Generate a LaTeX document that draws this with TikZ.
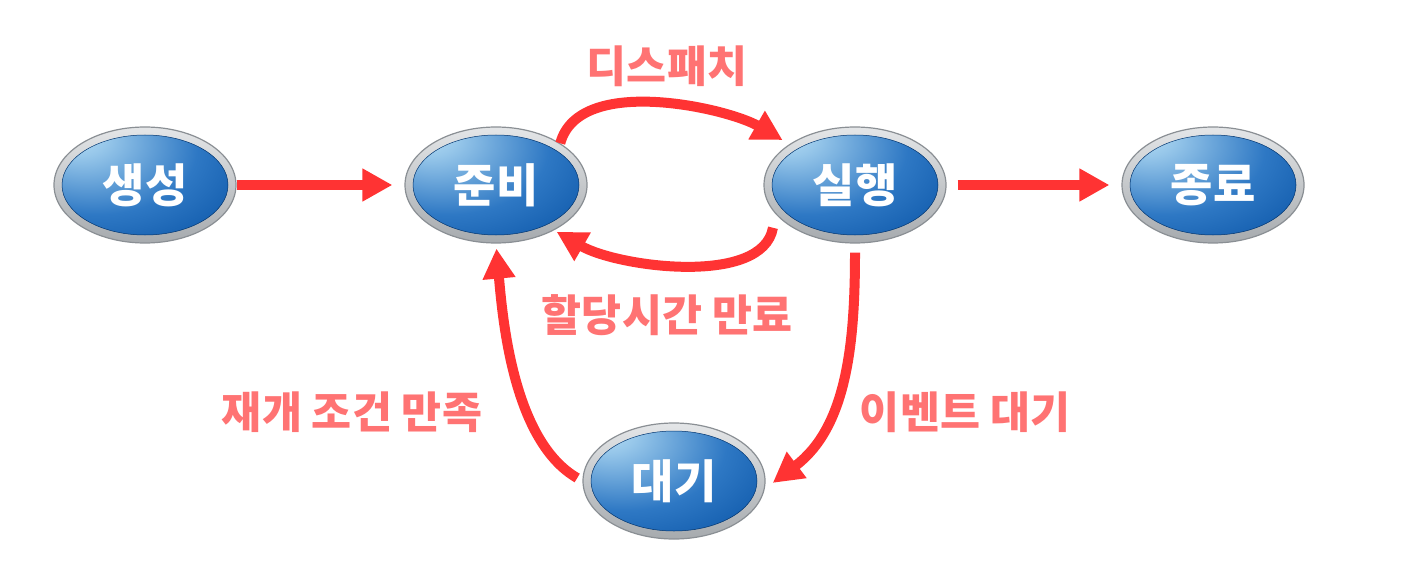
\documentclass[tikz,border=0pt]{standalone}
\usepackage{fontspec}
\newfontfamily\kr{Noto Sans CJK KR}
\usetikzlibrary{arrows.meta,shapes.geometric}
\definecolor{flowred}{HTML}{FF3333}
\definecolor{notered}{HTML}{FF7373}
\definecolor{btnlight}{HTML}{B8E0F6}
\definecolor{btnmid}{HTML}{2E78C4}
\definecolor{btndark}{HTML}{004A9E}
\definecolor{rimtop}{HTML}{E4E6E8}
\definecolor{rimbot}{HTML}{A6AAAE}
\definecolor{rimline}{HTML}{8A8F94}
\pgfdeclareradialshading{bluebtn}{\pgfpoint{-20bp}{22bp}}{%
  color(0bp)=(btnlight); color(8bp)=(btnlight!75!btnmid);
  color(28bp)=(btnmid); color(52bp)=(btndark); color(90bp)=(btndark)}
\tikzset{
  procnode/.style={ellipse, minimum width=182pt, minimum height=116pt, inner sep=0pt,
    draw=rimline, line width=1.2pt, top color=rimtop, bottom color=rimbot,
    path picture={
      \shade[shading=bluebtn] (path picture bounding box.center) ellipse (83pt and 50pt);
      \draw[btndark!70!black, line width=0.5pt] (path picture bounding box.center) ellipse (83pt and 50pt);},
    font=\kr\bfseries\fontsize{46}{46}\selectfont, text=white},
  flow/.style={-{Triangle[length=30pt, width=31pt]}, line width=10pt, color=flowred},
  note/.style={font=\kr\bfseries\fontsize{43.5}{43.5}\selectfont, text=notered},
}
\begin{document}
\begin{tikzpicture}[x=1pt,y=1pt]
  \useasboundingbox (0,0) rectangle (1404,-572);
  % states
  \node[procnode] (create) at (145,-185) {생성};
  \node[procnode] (ready) at (496,-185) {준비};
  \node[procnode] (run) at (855,-185) {실행};
  \node[procnode] (done) at (1213,-185) {종료};
  \node[procnode] (wait) at (674,-481) {대기};
  % transitions
  \draw[flow, shorten >=12pt] (create) -- (ready);
  \draw[flow, shorten <=11pt, shorten >=12pt] (run) -- (done);
  \draw[flow, shorten >=8pt] (ready.33) to[out=75, in=150, looseness=0.8] (run.148);
  \draw[flow, shorten <=14pt, shorten >=3pt] (run.200) to[out=-100, in=-30, looseness=0.85] (ready.-38);
  \draw[flow, shorten <=9pt, shorten >=10pt] (run.south) to[out=-90, in=37] (wait.-5);
  \draw[flow, shorten <=6pt, shorten >=5pt] (wait.west) to[out=150, in=-85, looseness=0.8] (ready.south);
  % labels
  \node[note] (dispatchlbl) at (667,-66) {디스패치};
  \node[note] (timeoutlbl) at (667,-315) {할당시간 만료};
  \node[note] (resumelbl) at (352,-412) {재개 조건 만족};
  \node[note] (eventlbl) at (965,-412) {이벤트 대기};
\end{tikzpicture}
\end{document}
